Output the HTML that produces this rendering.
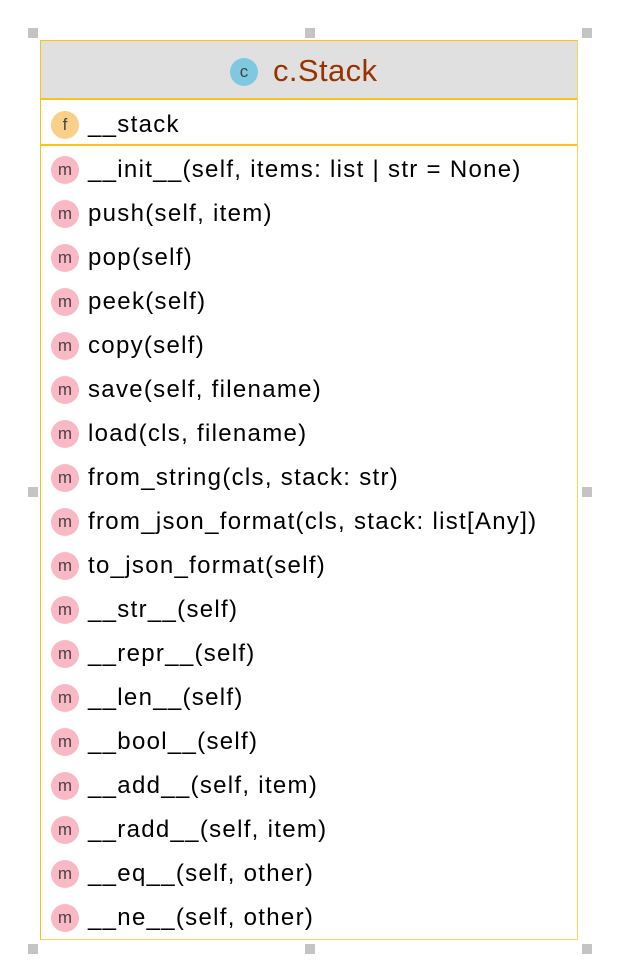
<!DOCTYPE html>
<html><head><style>
*{margin:0;padding:0;box-sizing:border-box}
body{width:636px;height:980px;background:#fff;position:relative;font-family:"Liberation Sans",Helvetica,Arial,sans-serif;overflow:hidden}
.h{position:absolute;width:10px;height:10px;background:#c4c4c4}
.box{position:absolute;left:40px;top:40px;width:538px;height:900px;border:1.5px solid #f5c518;border-right-color:#f8d462;border-bottom-color:#f8d462}
.hdr{position:absolute;left:0;top:0;right:0;height:59px;background:#e0e0e0;border-bottom:2px solid #f5c518}
.title{position:absolute;left:232px;top:12px;font-size:31px;letter-spacing:0.4px;color:#9a3200;white-space:nowrap}
.title .ic{position:absolute;left:-43px;top:5px;letter-spacing:0}
.ic{position:absolute;width:28px;height:28px;border-radius:50%;text-align:center;line-height:27px;font-size:17px;color:#444;letter-spacing:0}
.row{position:absolute;left:10px;height:44px;font-size:24px;letter-spacing:1.3px;color:#000;white-space:nowrap}
.row .ic{left:0;top:2px}
.row span.t{position:absolute;left:37px;top:2px}
.sep{position:absolute;left:0;right:0;top:103px;border-top:2px solid #f5c518}
</style></head><body>
<div class="h" style="left:28px;top:28px"></div>
<div class="h" style="left:305px;top:28px"></div>
<div class="h" style="left:582px;top:28px"></div>
<div class="h" style="left:28px;top:487px"></div>
<div class="h" style="left:582px;top:487px"></div>
<div class="h" style="left:28px;top:944px"></div>
<div class="h" style="left:305px;top:944px"></div>
<div class="h" style="left:582px;top:944px"></div>
<div class="box">
<div class="hdr"><div class="title"><div class="ic" style="background:#7ec8e0;">c</div>c.Stack</div></div>
<div class="row" style="top:68px"><div class="ic" style="background:#f8d08a">f</div><span class="t">__stack</span></div>
<div class="sep"></div>
<div class="row" style="top:113px"><div class="ic" style="background:#f9b8c4">m</div><span class="t">__init__(self, items: list | str = None)</span></div>
<div class="row" style="top:157px"><div class="ic" style="background:#f9b8c4">m</div><span class="t">push(self, item)</span></div>
<div class="row" style="top:201px"><div class="ic" style="background:#f9b8c4">m</div><span class="t">pop(self)</span></div>
<div class="row" style="top:245px"><div class="ic" style="background:#f9b8c4">m</div><span class="t">peek(self)</span></div>
<div class="row" style="top:289px"><div class="ic" style="background:#f9b8c4">m</div><span class="t">copy(self)</span></div>
<div class="row" style="top:333px"><div class="ic" style="background:#f9b8c4">m</div><span class="t">save(self, filename)</span></div>
<div class="row" style="top:377px"><div class="ic" style="background:#f9b8c4">m</div><span class="t">load(cls, filename)</span></div>
<div class="row" style="top:421px"><div class="ic" style="background:#f9b8c4">m</div><span class="t">from_string(cls, stack: str)</span></div>
<div class="row" style="top:465px"><div class="ic" style="background:#f9b8c4">m</div><span class="t">from_json_format(cls, stack: list[Any])</span></div>
<div class="row" style="top:509px"><div class="ic" style="background:#f9b8c4">m</div><span class="t">to_json_format(self)</span></div>
<div class="row" style="top:553px"><div class="ic" style="background:#f9b8c4">m</div><span class="t">__str__(self)</span></div>
<div class="row" style="top:597px"><div class="ic" style="background:#f9b8c4">m</div><span class="t">__repr__(self)</span></div>
<div class="row" style="top:641px"><div class="ic" style="background:#f9b8c4">m</div><span class="t">__len__(self)</span></div>
<div class="row" style="top:685px"><div class="ic" style="background:#f9b8c4">m</div><span class="t">__bool__(self)</span></div>
<div class="row" style="top:729px"><div class="ic" style="background:#f9b8c4">m</div><span class="t">__add__(self, item)</span></div>
<div class="row" style="top:773px"><div class="ic" style="background:#f9b8c4">m</div><span class="t">__radd__(self, item)</span></div>
<div class="row" style="top:817px"><div class="ic" style="background:#f9b8c4">m</div><span class="t">__eq__(self, other)</span></div>
<div class="row" style="top:861px"><div class="ic" style="background:#f9b8c4">m</div><span class="t">__ne__(self, other)</span></div>
</div>
</body></html>
